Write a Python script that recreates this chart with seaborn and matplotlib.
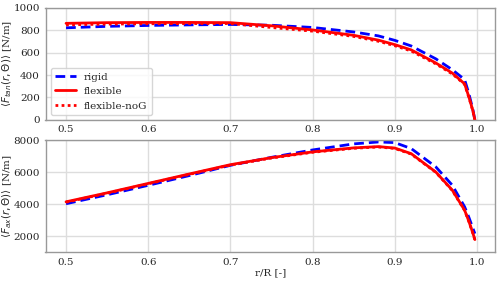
"""
Forças tangencial e axial médias ao longo da pá: rígida vs flexível
"""

import numpy as np
import pandas as pd
import matplotlib
matplotlib.use('Agg')
import matplotlib.pyplot as plt
import seaborn as sns

# posições radiais (r/R)
r_R = [0.5, 0.55, 0.6, 0.65, 0.7, 0.75, 0.8, 0.85, 0.88, 0.9, 0.92,
       0.95, 0.97, 0.985, 0.99, 0.995, 0.9975]

# força tangencial [N/m]
ftan_rigid = [822, 835, 843, 848, 852, 845, 825, 785, 750, 710, 660,
              545, 448, 360, 240, 95, 0]
ftan_flex = [862, 868, 870, 870, 868, 840, 803, 755, 712, 672, 625,
             508, 418, 322, 210, 85, 0]
ftan_noG = [848, 855, 858, 860, 860, 825, 792, 745, 702, 662, 615,
            500, 410, 318, 205, 82, 0]

# força axial [N/m]
fax_rigid = [4020, 4580, 5170, 5780, 6420, 6920, 7380, 7760, 7880, 7840, 7470,
             6320, 5180, 3830, 3200, 2500, 2150]
fax_flex = [4140, 4700, 5290, 5880, 6460, 6900, 7260, 7510, 7590, 7500, 7150,
            6000, 4870, 3620, 2950, 2200, 1780]
fax_noG = [4115, 4675, 5265, 5855, 6435, 6875, 7235, 7485, 7565, 7475, 7125,
           5980, 4850, 3600, 2930, 2180, 1760]

sns.set_theme(style='whitegrid')
plt.rcParams['font.family'] = ['DejaVu Serif']
fs = 7.5
plt.rcParams['font.size'] = fs
plt.rcParams['axes.edgecolor'] = '#999999'
plt.rcParams['axes.linewidth'] = 1.0
plt.rcParams['grid.color'] = '#dddddd'
plt.rcParams['xtick.labelsize'] = fs
plt.rcParams['ytick.labelsize'] = fs
plt.rcParams['axes.labelsize'] = fs
plt.rcParams['legend.fontsize'] = fs
plt.rcParams['xtick.major.size'] = 3
plt.rcParams['ytick.major.size'] = 3
plt.rcParams['xtick.color'] = '#555555'
plt.rcParams['ytick.color'] = '#555555'
plt.rcParams['xtick.labelcolor'] = '#262626'
plt.rcParams['ytick.labelcolor'] = '#262626'

fig, (ax1, ax2) = plt.subplots(2, 1, figsize=(5.0, 2.81), dpi=100)
fig.subplots_adjust(left=0.091, right=0.99, top=0.972, bottom=0.103, hspace=0.18)

df_tan = pd.DataFrame({'r': r_R, 'rigid': ftan_rigid, 'flexible': ftan_flex,
                       'flexible-noG': ftan_noG})
df_ax = pd.DataFrame({'r': r_R, 'rigid': fax_rigid, 'flexible': fax_flex,
                      'flexible-noG': fax_noG})

styles = {'rigid': ('#0000ff', (0, (3.5, 1.8))),
          'flexible': ('#ff0000', '-'),
          'flexible-noG': ('#ff0000', (0, (1, 1.2)))}

for ax, df in [(ax1, df_tan), (ax2, df_ax)]:
    for name, (col, ls) in styles.items():
        sns.lineplot(data=df, x='r', y=name, ax=ax, color=col, linestyle=ls,
                     linewidth=2, label=name if ax is ax1 else None)
    ax.set_xlim(0.475, 1.022)
    ax.set_xticks([0.5, 0.6, 0.7, 0.8, 0.9, 1.0])
    ax.tick_params(pad=1)

ax1.set_ylim(0, 1000)
ax1.set_yticks([0, 200, 400, 600, 800, 1000])
ax1.set_xlabel('')
ax1.set_ylabel(r'$\langle F_{tan}(r,\Theta)\rangle$ [N/m]')
ax1.legend(loc='lower left', framealpha=0.8)

ax2.set_ylim(1000, 8000)
ax2.set_yticks([2000, 4000, 6000, 8000])
ax2.set_xlabel('r/R [-]', labelpad=1)
ax2.set_ylabel(r'$\langle F_{ax}(r,\Theta)\rangle$ [N/m]')

# rótulos y encostados na borda esquerda
for ax in (ax1, ax2):
    ax.yaxis.set_label_coords(-0.071, 0.5)

plt.savefig('out.png', dpi=100)
plt.close()
